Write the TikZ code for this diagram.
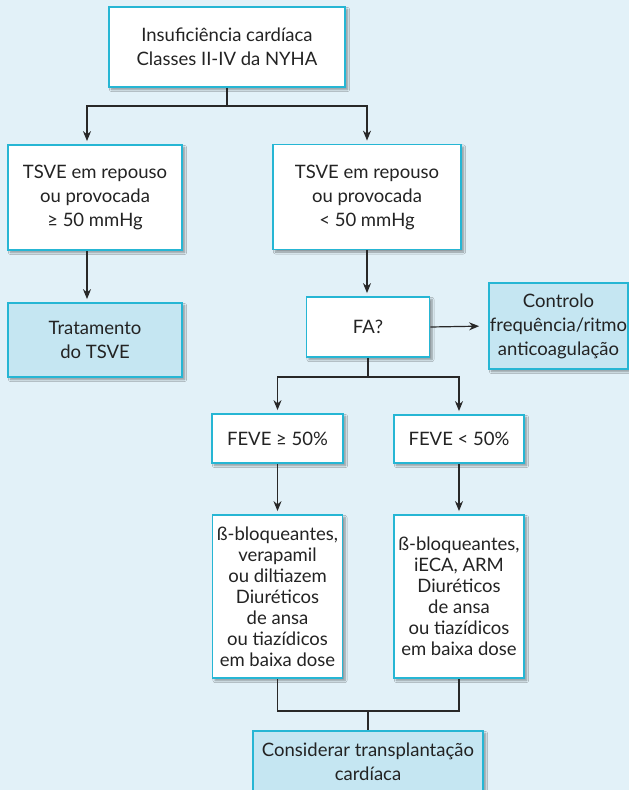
\documentclass[tikz,border=0pt]{standalone}
\usepackage{fontspec}
\setmainfont{Lato}
\usetikzlibrary{arrows.meta,shadows.blur}
\definecolor{bgc}{RGB}{226,241,248}
\definecolor{bordc}{RGB}{38,182,212}
\definecolor{fillc}{RGB}{197,230,242}
\definecolor{linec}{RGB}{40,40,40}
\definecolor{txtc}{RGB}{35,35,35}
\begin{document}
\begin{tikzpicture}[x=1pt,y=-1pt,
  box/.style={draw=bordc, line width=1.8pt, fill=white, align=center, inner sep=0pt,
    font=\fontsize{18.5}{24}\selectfont, text=txtc,
    blur shadow={shadow xshift=2.5pt, shadow yshift=-2.5pt, shadow blur steps=6, shadow opacity=40}},
  hbox/.style={box, fill=fillc},
  drugbox/.style={box, font=\fontsize{18.5}{21}\selectfont},
  conn/.style={draw=linec, line width=1.2pt},
  arr/.style={conn, -{Stealth[length=10pt,width=8pt]}, shorten >=3pt}]
\fill[bgc] (0,0) rectangle (629,790);
\useasboundingbox (0,0) rectangle (629,790);

\node[box, minimum width=236pt, minimum height=80pt] (top) at (227,47) {Insuficiência cardíaca\\Classes II-IV da NYHA};
\node[box, minimum width=174pt, minimum height=105pt] (tsveL) at (95,197.5) {TSVE em repouso\\ou provocada\\≥ 50 mmHg};
\node[box, minimum width=188pt, minimum height=105pt] (tsveR) at (367,197) {TSVE em repouso\\ou provocada\\< 50 mmHg};
\node[hbox, minimum width=174pt, minimum height=74pt] (trat) at (95,340) {Tratamento\\do TSVE};
\node[box, minimum width=123pt, minimum height=60pt] (fa) at (368,327) {FA?};
\node[hbox, minimum width=139pt, minimum height=86pt] (ctrl) at (558.5,326) {Controlo\\frequência/ritmo\\anticoagulação};
\node[box, minimum width=131pt, minimum height=49pt] (feveL) at (277.5,438.5) {FEVE ≥ 50\%};
\node[box, minimum width=130pt, minimum height=48pt] (feveR) at (459,439) {FEVE < 50\%};
\node[drugbox, minimum width=130pt, minimum height=163pt] (drugL) at (277.5,596.5) {ß-bloqueantes,\\verapamil\\ou diltiazem\\Diuréticos\\de ansa\\ou tiazídicos\\em baixa dose};
\node[drugbox, minimum width=130pt, minimum height=163pt] (drugR) at (459,596.5) {ß-bloqueantes,\\iECA, ARM\\Diuréticos\\de ansa\\ou tiazídicos\\em baixa dose};
\node[hbox, minimum width=230pt, minimum height=62pt] (cons) at (368,762) {Considerar transplantação\\cardíaca};

\coordinate (aL) at (87,106);
\coordinate (aR) at (367,106);
\coordinate (bL) at (277.5,377);
\coordinate (bR) at (459,377);
\coordinate (cJ) at (368,711);

\draw[arr] (top.south) |- (aL) -- (aL |- tsveL.north);
\draw[arr] (top.south) |- (aR) -- (aR |- tsveR.north);
\draw[arr] (aL |- tsveL.south) -- (aL |- trat.north);
\draw[arr] (aR |- tsveR.south) -- (aR |- fa.north);
\draw[arr, shorten >=9pt] (fa.east) -- (ctrl.west);
\draw[arr] (fa.south) |- (bL) -- (bL |- feveL.north);
\draw[arr] (fa.south) |- (bR) -- (bR |- feveR.north);
\draw[arr] (feveL.south) -- (drugL.north);
\draw[arr] (feveR.south) -- (drugR.north);
\draw[conn] (drugL.south) |- (cJ) -| (drugR.south);
\draw[conn] (cJ) -- (cJ |- cons.north);
\end{tikzpicture}
\end{document}
